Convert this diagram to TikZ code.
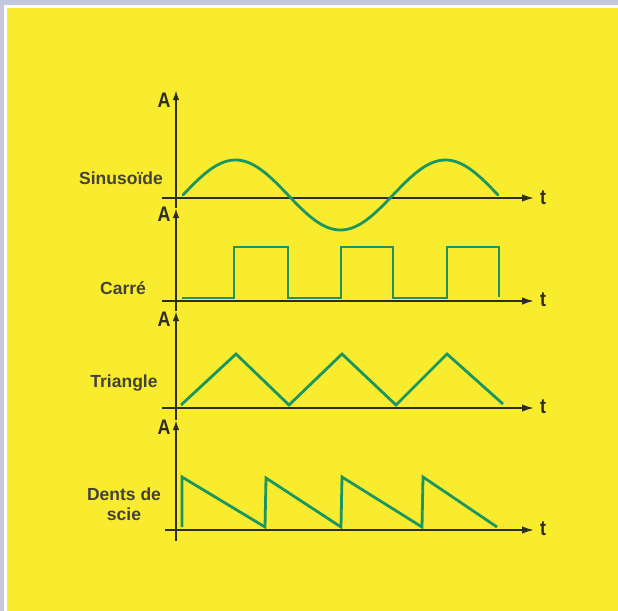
\documentclass[tikz,border=0pt]{standalone}
\usepackage{fontspec}
\setmainfont{Liberation Sans}
\usetikzlibrary{arrows.meta}
\definecolor{bgyellow}{RGB}{249,235,45}
\definecolor{frame}{RGB}{196,200,222}
\definecolor{wave}{RGB}{28,150,96}
\definecolor{axisc}{RGB}{45,45,35}
\tikzset{
  axisline/.style={draw=axisc,line width=1.8pt,-{Latex[length=12pt,width=7.5pt]}},
  vaxis/.style={draw=axisc,line width=1.8pt,-{Latex[length=10pt,width=6.5pt]}},
  wavel/.style={draw=wave,line width=2.8pt,line join=miter},
  alabel/.style={font=\fontsize{21}{21}\selectfont\bfseries,text=axisc,inner sep=0pt,xscale=0.85},
  tlabel/.style={font=\fontsize{21}{21}\selectfont\bfseries,text=axisc,inner sep=0pt,xscale=0.85},
  wname/.style={font=\fontsize{17.5}{19.5}\selectfont\bfseries,text=axisc!90,inner sep=0pt,align=center}
}
\begin{document}
\begin{tikzpicture}[x=1pt,y=-1pt]
\useasboundingbox (0,0) rectangle (618,610);
\fill[frame] (-2,-2) rectangle (622,614);
\fill[white] (4,5) rectangle (622,614);
\fill[bgyellow] (7,8) rectangle (622,614);
% coordinates
\coordinate (vbot) at (176,541);
\coordinate (v4) at (176,420);
\coordinate (v3) at (176,311);
\coordinate (v2) at (176,208);
\coordinate (v1) at (176,90);
% vertical axis pieces
\draw[vaxis] (vbot) -- (v4);
\draw[vaxis] (v4) -- (v3);
\draw[vaxis] (v3) -- (v2);
\draw[vaxis] (v2) -- (v1);
% horizontal axes
\coordinate (h1s) at (162,198); \coordinate (h1e) at (534,198);
\coordinate (h2s) at (162,301); \coordinate (h2e) at (534,301);
\coordinate (h3s) at (162,408); \coordinate (h3e) at (534,408);
\coordinate (h4s) at (165,530); \coordinate (h4e) at (534,530);
\draw[axisline] (h1s) -- (h1e);
\draw[axisline] (h2s) -- (h2e);
\draw[axisline] (h3s) -- (h3e);
\draw[axisline] (h4s) -- (h4e);
% labels A
\node[alabel] (a1) at (164,100) {A};
\node[alabel] (a2) at (164,214) {A};
\node[alabel] (a3) at (164,319) {A};
\node[alabel] (a4) at (164,427) {A};
% labels t
\node[tlabel] (t1) at (543,198) {t};
\node[tlabel] (t2) at (543,300) {t};
\node[tlabel] (t3) at (543,407) {t};
\node[tlabel] (t4) at (543,529) {t};
% names
\node[wname,anchor=east] (n1) at (163,178) {Sinusoïde};
\node[wname] (n2) at (123,288) {Carré};
\node[wname] (n3) at (124,383) {Triangle};
\node[wname] (n4) at (124,504) {Dents de\\scie};
% sine
\draw[wavel,line cap=round,domain=0:3*pi,samples=120,variable=\t]
  plot ({183+\t/pi*105},{195-35*sin(\t r)});
% square
\draw[wavel] (182,298) -- (234,298) -- (234,247) -- (288,247) -- (288,298)
  -- (341,298) -- (341,247) -- (393,247) -- (393,298) -- (447,298)
  -- (447,247) -- (499,247) -- (499,297);
% triangle
\draw[wavel] (181,405) -- (236,354) -- (289,405) -- (342,354) -- (396,405)
  -- (447,354) -- (503,404);
% sawtooth
\draw[wavel] (182,527) -- (182,477) -- (265,527) -- (266,478) -- (341,527)
  -- (342,477) -- (422,527) -- (423,477) -- (497,527);
\end{tikzpicture}
\end{document}
